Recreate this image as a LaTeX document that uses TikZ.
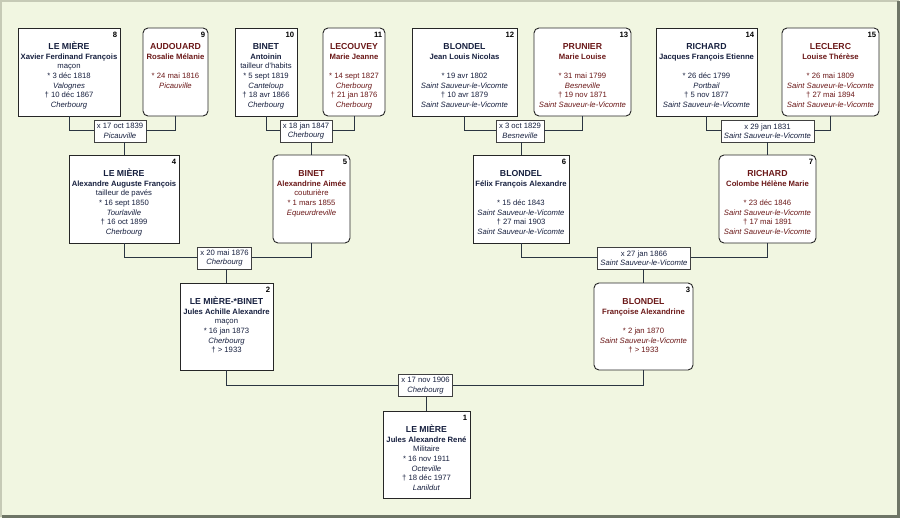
\documentclass[tikz,border=0pt]{standalone}
\usepackage{fontspec}
\setmainfont{Liberation Sans}
\usepackage{tikz}

\definecolor{bgc}{HTML}{F1F6E1}
\definecolor{rimlight}{HTML}{C6CAB6}
\definecolor{rimdark}{HTML}{6E7566}
\definecolor{manc}{HTML}{17203F}
\definecolor{womc}{HTML}{6B1818}
\definecolor{linkc}{HTML}{2B3541}

\newcommand{\sur}[1]{\rule{0pt}{8pt}{\fontsize{8.7}{9.6}\selectfont\bfseries #1}}

\begin{document}
\begin{tikzpicture}[x=1pt,y=-1pt,
  man/.style={draw=black!85,fill=white,line width=0.9pt,minimum height=88pt,inner sep=0pt},
  woman/.style={man,rounded corners=5pt},
  info/.style={anchor=north,align=center,inner sep=0pt,font=\fontsize{7.7}{9.6}\selectfont},
  num/.style={anchor=north east,inner sep=0pt,font=\fontsize{7.7}{9}\selectfont\bfseries},
  wed/.style={draw=black!75,fill=white,line width=0.7pt,align=center,inner xsep=3pt,inner ysep=2pt,
    minimum height=22pt,font=\fontsize{7.7}{9.4}\selectfont,text=manc},
  link/.style={draw=linkc,line width=1pt}]
\useasboundingbox (0,0) rectangle (900,518);
\fill[bgc] (0,0) rectangle (900,518);
\draw[rimlight,line width=2pt] (1,517) -- (1,1) -- (899,1);
\draw[rimdark,line width=3pt] (1.5,516.5) -- (898.5,516.5) -- (898.5,1.5);

% generation 4
\node[man,minimum width=102pt] (p8) at (69,72) {};
\node[woman,minimum width=65pt] (p9) at (175.5,72) {};
\node[man,minimum width=62pt] (p10) at (266,72) {};
\node[woman,minimum width=62pt] (p11) at (354,72) {};
\node[man,minimum width=105pt] (p12) at (464.5,72) {};
\node[woman,minimum width=97pt] (p13) at (582.5,72) {};
\node[man,minimum width=101pt] (p14) at (706.5,72) {};
\node[woman,minimum width=97pt] (p15) at (830.5,72) {};
% generation 3
\node[man,minimum width=110pt] (p4) at (124,199) {};
\node[woman,minimum width=77pt] (p5) at (311.5,199) {};
\node[man,minimum width=96pt] (p6) at (521,199) {};
\node[woman,minimum width=97pt] (p7) at (767.5,199) {};
% generation 2 and 1
\node[man,minimum width=93pt,minimum height=87pt] (p2) at (226.5,326.5) {};
\node[woman,minimum width=99pt,minimum height=87pt] (p3) at (643.5,326.5) {};
\node[man,minimum width=87pt,minimum height=87pt] (p1) at (426.5,454.5) {};

% marriages
\node[wed] (m89) at (120,131) {x 17 oct 1839\\\textit{Picauville}};
\node[wed] (m1011) at (306,131) {x 18 jan 1847\\\textit{Cherbourg}};
\node[wed] (m1213) at (520,131) {x 3 oct 1829\\\textit{Besneville}};
\node[wed] (m1415) at (767.5,131) {x 29 jan 1831\\\textit{Saint Sauveur-le-Vicomte}};
\node[wed] (m45) at (224.5,258) {x 20 mai 1876\\\textit{Cherbourg}};
\node[wed] (m67) at (644,258) {x 27 jan 1866\\\textit{Saint Sauveur-le-Vicomte}};
\node[wed] (m23) at (425.5,385.5) {x 17 nov 1906\\\textit{Cherbourg}};

\foreach \a/\m/\b/\c in {p8/m89/p9/p4,p10/m1011/p11/p5,p12/m1213/p13/p6,p14/m1415/p15/p7,
                         p4/m45/p5/p2,p6/m67/p7/p3,p2/m23/p3/p1} {
\draw[link] (\a.south) |- (\m.west);
\draw[link] (\b.south) |- (\m.east);
\draw[link] (\c.north |- \m.south) -- (\c.north);
}

% texts
\node[info,text=manc] (t8) at ([yshift=-14pt]p8.north) {\sur{LE MIÈRE}\\\textbf{Xavier Ferdinand François}\\maçon\\{}* 3 déc 1818\\\textit{Valognes}\\† 10 déc 1867\\\textit{Cherbourg}};
\node[info,text=womc] (t9) at ([yshift=-14pt]p9.north) {\sur{AUDOUARD}\\\textbf{Rosalie Mélanie}\\[9.6pt]{}* 24 mai 1816\\\textit{Picauville}};
\node[info,text=manc] (t10) at ([yshift=-14pt]p10.north) {\sur{BINET}\\\textbf{Antoinin}\\tailleur d'habits\\{}* 5 sept 1819\\\textit{Canteloup}\\† 18 avr 1866\\\textit{Cherbourg}};
\node[info,text=womc] (t11) at ([yshift=-14pt]p11.north) {\sur{LECOUVEY}\\\textbf{Marie Jeanne}\\[9.6pt]{}* 14 sept 1827\\\textit{Cherbourg}\\† 21 jan 1876\\\textit{Cherbourg}};
\node[info,text=manc] (t12) at ([yshift=-14pt]p12.north) {\sur{BLONDEL}\\\textbf{Jean Louis Nicolas}\\[9.6pt]{}* 19 avr 1802\\\textit{Saint Sauveur-le-Vicomte}\\† 10 avr 1879\\\textit{Saint Sauveur-le-Vicomte}};
\node[info,text=womc] (t13) at ([yshift=-14pt]p13.north) {\sur{PRUNIER}\\\textbf{Marie Louise}\\[9.6pt]{}* 31 mai 1799\\\textit{Besneville}\\† 19 nov 1871\\\textit{Saint Sauveur-le-Vicomte}};
\node[info,text=manc] (t14) at ([yshift=-14pt]p14.north) {\sur{RICHARD}\\\textbf{Jacques François Etienne}\\[9.6pt]{}* 26 déc 1799\\\textit{Portbail}\\† 5 nov 1877\\\textit{Saint Sauveur-le-Vicomte}};
\node[info,text=womc] (t15) at ([yshift=-14pt]p15.north) {\sur{LECLERC}\\\textbf{Louise Thérèse}\\[9.6pt]{}* 26 mai 1809\\\textit{Saint Sauveur-le-Vicomte}\\† 27 mai 1894\\\textit{Saint Sauveur-le-Vicomte}};
\node[info,text=manc] (t4) at ([yshift=-14pt]p4.north) {\sur{LE MIÈRE}\\\textbf{Alexandre Auguste François}\\tailleur de pavés\\{}* 16 sept 1850\\\textit{Tourlaville}\\† 16 oct 1899\\\textit{Cherbourg}};
\node[info,text=womc] (t5) at ([yshift=-14pt]p5.north) {\sur{BINET}\\\textbf{Alexandrine Aimée}\\couturière\\{}* 1 mars 1855\\\textit{Equeurdreville}};
\node[info,text=manc] (t6) at ([yshift=-14pt]p6.north) {\sur{BLONDEL}\\\textbf{Félix François Alexandre}\\[9.6pt]{}* 15 déc 1843\\\textit{Saint Sauveur-le-Vicomte}\\† 27 mai 1903\\\textit{Saint Sauveur-le-Vicomte}};
\node[info,text=womc] (t7) at ([yshift=-14pt]p7.north) {\sur{RICHARD}\\\textbf{Colombe Hélène Marie}\\[9.6pt]{}* 23 déc 1846\\\textit{Saint Sauveur-le-Vicomte}\\† 17 mai 1891\\\textit{Saint Sauveur-le-Vicomte}};
\node[info,text=manc] (t2) at ([yshift=-14pt]p2.north) {\sur{LE MIÈRE-*BINET}\\\textbf{Jules Achille Alexandre}\\maçon\\{}* 16 jan 1873\\\textit{Cherbourg}\\† > 1933};
\node[info,text=womc] (t3) at ([yshift=-14pt]p3.north) {\sur{BLONDEL}\\\textbf{Françoise Alexandrine}\\[9.6pt]{}* 2 jan 1870\\\textit{Saint Sauveur-le-Vicomte}\\† > 1933};
\node[info,text=manc] (t1) at ([yshift=-14pt]p1.north) {\sur{LE MIÈRE}\\\textbf{Jules Alexandre René}\\Militaire\\{}* 16 nov 1911\\\textit{Octeville}\\† 18 déc 1977\\\textit{Lanildut}};

\foreach \i in {1,...,15} {
\node[num] (n\i) at ([xshift=-3pt,yshift=-4pt]p\i.north east) {\i};
}
\end{tikzpicture}
\end{document}
